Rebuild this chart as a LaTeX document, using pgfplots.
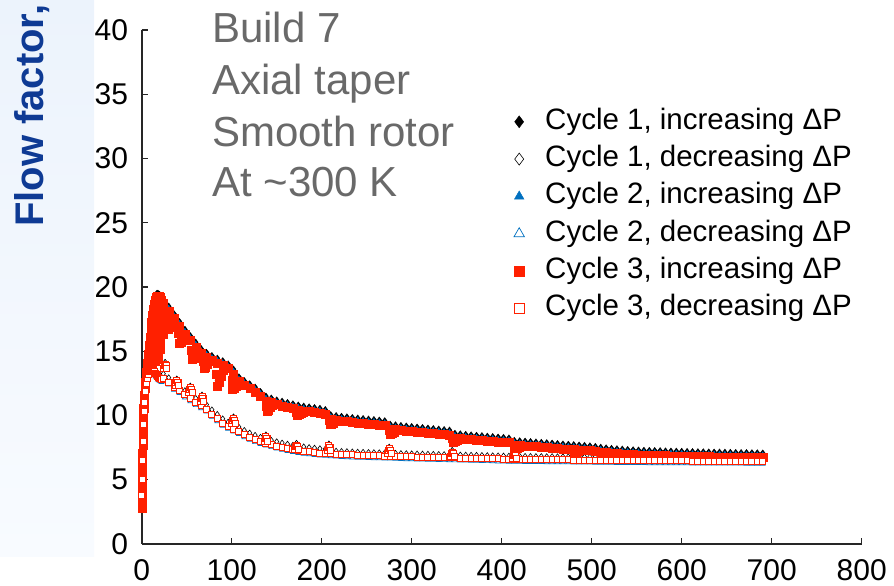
\documentclass[border=0pt]{standalone}
\usepackage{fontspec}
\setmainfont{Liberation Sans}
\usepackage{pgfplots}
\usepackage{pgfplotstable}
\pgfplotsset{compat=1.18}

\definecolor{cblue}{RGB}{0,112,192}
\definecolor{cred}{RGB}{255,32,0}
\definecolor{tgray}{RGB}{105,105,105}
\definecolor{lblue}{RGB}{14,58,148}
\definecolor{stripA}{RGB}{236,243,252}
\definecolor{stripB}{RGB}{248,251,255}

% x, then flow factor for each series:
% U = cycle 1 increasing, R = cycle 3 increasing, B = cycle 2 increasing,
% L = cycle 3 decreasing, K = cycle 1 decreasing, D = cycle 2 decreasing
\pgfplotstableread{
x U R B L K D
0 3.0 2.8 2.9 3.8 4.0 3.6
0.5 4.5 4.3 4.4 5.0 5.2 4.8
1 6.2 6.0 6.1 6.5 6.7 6.3
1.5 8.0 7.8 7.9 8.0 8.2 7.8
2 9.6 9.4 9.5 9.3 9.5 9.1
2.5 10.8 10.6 10.7 10.3 10.5 10.1
3 11.7 11.5 11.6 11.0 11.2 10.8
4 12.8 12.6 12.7 11.9 12.1 11.7
5 13.6 13.4 13.5 12.5 12.7 12.3
6 14.3 14.1 14.2 12.9 13.1 12.7
7 15.0 14.8 14.9 13.2 13.4 13.0
8 15.7 15.5 15.6 13.4 13.6 13.2
9 16.3 16.1 16.2 13.5 13.7 13.3
10 16.9 16.7 16.8 13.6 13.8 13.4
11 17.5 17.3 17.4 13.6 13.8 13.4
12 18.0 17.8 17.9 13.55 13.75 13.35
13 18.5 18.3 18.4 13.5 13.7 13.3
14 18.9 18.7 18.8 13.4 13.6 13.2
15 19.2 19.0 19.1 13.3 13.5 13.1
16 19.4 19.2 19.3 13.2 13.4 13.0
17 19.5 19.3 19.4 13.1 13.3 12.9
18 19.5 19.3 19.4 13.0 13.2 12.8
19 19.45 19.25 19.35 12.95 13.15 12.75
20 19.4 19.2 19.3 12.9 13.1 12.7
21 19.3 19.1 19.2 12.85 13.05 12.65
22 19.2 19.0 19.1 12.8 13.0 12.6
24 19.10 18.75 18.98 12.90 13.25 12.70
30 18.50 18.15 18.38 12.60 12.95 12.40
36 17.90 17.55 17.78 12.20 12.55 12.00
42 17.30 16.95 17.18 11.95 12.30 11.75
48 16.70 16.35 16.58 11.60 11.95 11.40
54 16.20 15.85 16.08 11.30 11.65 11.10
60 15.70 15.35 15.58 11.00 11.35 10.80
66 15.20 14.85 15.08 10.75 11.10 10.55
72 14.90 14.55 14.78 10.50 10.85 10.30
78 14.65 14.30 14.53 10.10 10.45 9.90
84 14.45 14.10 14.33 9.75 10.10 9.55
90 14.25 13.90 14.13 9.40 9.75 9.20
96 14.00 13.65 13.88 9.15 9.50 8.95
102 13.60 13.25 13.48 8.95 9.30 8.75
108 13.00 12.65 12.88 8.75 9.10 8.55
114 12.70 12.35 12.58 8.50 8.85 8.30
120 12.45 12.10 12.33 8.30 8.65 8.10
126 12.20 11.85 12.08 8.12 8.47 7.92
132 11.85 11.50 11.73 7.97 8.32 7.77
138 11.50 11.15 11.38 7.85 8.20 7.65
144 11.35 11.00 11.23 7.73 8.08 7.53
150 11.20 10.85 11.08 7.62 7.97 7.42
156 11.10 10.75 10.98 7.52 7.87 7.32
162 11.00 10.65 10.88 7.43 7.78 7.23
168 10.90 10.55 10.78 7.35 7.70 7.15
174 10.80 10.45 10.68 7.28 7.63 7.08
180 10.72 10.37 10.60 7.22 7.57 7.02
186 10.66 10.31 10.54 7.17 7.52 6.97
192 10.60 10.25 10.48 7.12 7.47 6.92
198 10.55 10.20 10.43 7.08 7.43 6.88
204 10.45 10.10 10.33 7.05 7.40 6.85
210 10.05 9.70 9.93 7.02 7.27 6.82
216 9.98 9.63 9.86 6.99 7.24 6.79
222 9.93 9.58 9.81 6.97 7.22 6.77
228 9.88 9.53 9.76 6.95 7.20 6.75
234 9.83 9.48 9.71 6.93 7.18 6.73
240 9.79 9.44 9.67 6.91 7.16 6.71
246 9.75 9.40 9.63 6.90 7.15 6.70
252 9.71 9.36 9.59 6.88 7.13 6.68
258 9.67 9.32 9.55 6.87 7.12 6.67
264 9.63 9.28 9.51 6.86 7.11 6.66
270 9.58 9.23 9.46 6.85 7.10 6.65
276 9.32 8.97 9.20 6.84 7.09 6.64
282 9.26 8.91 9.14 6.82 7.07 6.62
288 9.21 8.86 9.09 6.80 7.05 6.60
294 9.17 8.82 9.05 6.79 7.04 6.59
300 9.13 8.78 9.01 6.78 7.03 6.58
306 9.09 8.74 8.97 6.77 7.02 6.57
312 9.05 8.70 8.93 6.76 7.01 6.56
318 9.01 8.66 8.89 6.75 7.00 6.55
324 8.97 8.62 8.85 6.74 6.99 6.54
330 8.93 8.58 8.81 6.73 6.98 6.53
336 8.89 8.54 8.77 6.72 6.97 6.52
342 8.85 8.50 8.73 6.71 6.96 6.51
348 8.60 8.25 8.48 6.70 6.95 6.50
354 8.56 8.21 8.44 6.69 6.94 6.49
360 8.52 8.17 8.40 6.68 6.93 6.48
366 8.48 8.13 8.36 6.67 6.92 6.47
372 8.45 8.10 8.33 6.66 6.91 6.46
378 8.42 8.07 8.30 6.65 6.90 6.45
384 8.38 8.03 8.26 6.64 6.89 6.44
390 8.35 8.00 8.23 6.63 6.88 6.43
396 8.31 7.96 8.19 6.62 6.87 6.42
402 8.28 7.93 8.16 6.61 6.86 6.41
408 8.24 7.89 8.12 6.60 6.85 6.40
414 8.05 7.70 7.93 6.60 6.85 6.40
420 8.02 7.67 7.90 6.59 6.84 6.39
426 7.99 7.64 7.87 6.58 6.83 6.38
432 7.96 7.61 7.84 6.58 6.83 6.38
438 7.93 7.58 7.81 6.57 6.82 6.37
444 7.90 7.55 7.78 6.57 6.82 6.37
450 7.87 7.52 7.75 6.56 6.81 6.36
456 7.84 7.49 7.72 6.56 6.81 6.36
462 7.80 7.45 7.68 6.55 6.80 6.35
468 7.77 7.42 7.65 6.55 6.80 6.35
474 7.75 7.40 7.63 6.55 6.80 6.35
480 7.72 7.37 7.60 6.54 6.79 6.34
486 7.69 7.34 7.57 6.54 6.79 6.34
492 7.66 7.31 7.54 6.53 6.78 6.33
498 7.63 7.28 7.51 6.53 6.78 6.33
504 7.58 7.23 7.46 6.52 6.77 6.32
510 7.52 7.17 7.40 6.52 6.77 6.32
516 7.47 7.12 7.35 6.51 6.76 6.31
522 7.43 7.08 7.31 6.51 6.76 6.31
528 7.40 7.05 7.28 6.50 6.75 6.30
534 7.37 7.02 7.25 6.50 6.75 6.30
540 7.34 6.99 7.22 6.50 6.75 6.30
546 7.32 6.97 7.20 6.49 6.74 6.29
552 7.30 6.95 7.18 6.49 6.74 6.29
558 7.28 6.93 7.16 6.49 6.74 6.29
564 7.27 6.92 7.15 6.48 6.73 6.28
570 7.26 6.91 7.14 6.48 6.73 6.28
576 7.25 6.90 7.13 6.48 6.73 6.28
582 7.23 6.88 7.11 6.48 6.73 6.28
588 7.22 6.87 7.10 6.47 6.72 6.27
594 7.21 6.86 7.09 6.47 6.72 6.27
600 7.20 6.85 7.08 6.47 6.72 6.27
606 7.19 6.84 7.07 6.47 6.72 6.27
612 7.18 6.83 7.06 6.46 6.71 6.26
618 7.17 6.82 7.05 6.46 6.71 6.26
624 7.16 6.81 7.04 6.46 6.71 6.26
630 7.15 6.80 7.03 6.46 6.71 6.26
636 7.14 6.79 7.02 6.46 6.71 6.26
642 7.14 6.79 7.02 6.45 6.70 6.25
648 7.13 6.78 7.01 6.45 6.70 6.25
654 7.12 6.77 7.00 6.45 6.70 6.25
660 7.11 6.76 6.99 6.45 6.70 6.25
666 7.10 6.75 6.98 6.45 6.70 6.25
672 7.10 6.75 6.98 6.44 6.69 6.24
678 7.09 6.74 6.97 6.44 6.69 6.24
684 7.08 6.73 6.96 6.44 6.69 6.24
690 7.07 6.72 6.95 6.44 6.69 6.24
}\flowdata

\pgfplotsset{
  % legend sample: one enlarged marker in a fixed 12pt cell
  legmark/.style={legend image code/.code={
    \path[draw=none, fill=none] (-6pt,-6pt) rectangle (6pt,6pt);
    \draw[##1, mark size=#1] plot coordinates {(0pt,0pt)};}},
  c1inc/.style={only marks, mark=diamond*, mark size=3.3pt,
    mark options={draw=black, fill=black, line width=0.4pt}},
  c1dec/.style={only marks, mark=diamond*, mark size=2.8pt,
    mark options={draw=black, fill=white, line width=0.6pt}},
  c2inc/.style={only marks, mark=triangle*, mark size=2.8pt,
    mark options={draw=cblue, fill=cblue, line width=0.4pt}},
  c2dec/.style={only marks, mark=triangle*, mark size=2.8pt,
    mark options={draw=cblue, fill=white, line width=0.7pt}},
  c3inc/.style={only marks, mark=square*, mark size=4pt,
    mark options={draw=cred, fill=cred, line width=0.3pt}},
  c3dec/.style={only marks, mark=square*, mark size=3pt,
    mark options={draw=cred, fill=white, line width=0.9pt}},
}

\begin{document}
\begin{tikzpicture}
\useasboundingbox (0,0) rectangle (894pt,586pt);
% slide margin strip and the vertical title
\shade[top color=stripA, bottom color=stripB] (0,29pt) rectangle (94pt,586pt);
\node[rotate=90, anchor=base west, inner sep=0pt, text=lblue,
      font=\fontsize{40}{48}\selectfont\bfseries] at (43pt,359pt) {Flow factor,};

\begin{axis}[
  at={(141.7pt,42pt)}, anchor=south west,
  scale only axis, width=720pt, height=514pt,
  xmin=0, xmax=800, ymin=0, ymax=40,
  axis x line=bottom, axis y line=left,
  axis line style={-, line width=1.6pt, black!85},
  xtick={0,100,...,800}, ytick={0,5,...,40},
  tick align=inside, major tick length=6pt,
  major tick style={line width=1.4pt, black!85},
  tick label style={font=\fontsize{30}{36}\selectfont, inner sep=0pt},
  xticklabel style={yshift=-15pt},
  yticklabel style={xshift=-13.5pt},
  /pgf/number format/assume math mode=true,
  legend cell align=left,
  legend style={draw=none, fill=none, at={(0.5157,0.850)}, anchor=north west,
    inner sep=0pt, row sep=8.3pt, column sep=20pt,
    font=\fontsize{29.5}{35}\selectfont,
    nodes={inner sep=0pt, text height=22pt, text depth=7pt}},
]

% ---- cycle 1 ----
\addplot[c1inc, legmark=6pt] table[x=x, y=U]{\flowdata};
\addlegendentry{Cycle 1, increasing ΔP}
\addplot[c1inc, forget plot] coordinates {
  (0.3,4.0)(0.8,5.5)(1.3,7.2)(1.8,8.8)(2.3,10.3)(3.5,12.3)
  (24.5,13.8)(26,14.1)(27.5,13.8) (37.5,12.5)(39,12.8)(40.5,12.5)
  (52.5,11.95)(54,12.25)(55.5,11.95) (65.5,11.25)(67,11.55)(68.5,11.25)
  (100.5,9.55)(102,9.85)(103.5,9.55) (136.5,8.15)(138,8.45)(139.5,8.15)
  (170.5,7.5)(172,7.8)(173.5,7.5) (206.5,7.45)(208,7.75)(209.5,7.45)
  (273.5,7.2)(275,7.5)(276.5,7.2) (343.5,6.95)(345,7.25)(346.5,6.95)
  (412.5,6.8)(414,7.1)(415.5,6.8)};

\addplot[c1dec, legmark=6pt] table[x=x, y=K]{\flowdata};
\addlegendentry{Cycle 1, decreasing ΔP}
\addplot[c1dec, forget plot] coordinates {
  (24,13.85)(26,14.15)(28,13.85) (37,12.55)(39,12.85)(41,12.55)
  (52,12.0)(54,12.3)(56,12.0) (65,11.3)(67,11.6)(69,11.3)
  (100,9.6)(102,9.9)(104,9.6) (136,8.2)(138,8.5)(140,8.2)
  (170,7.55)(172,7.85)(174,7.55) (206,7.5)(208,7.8)(210,7.5)
  (273,7.25)(275,7.55)(277,7.25) (343,7.0)(345,7.3)(347,7.0)
  (412,6.85)(414,7.15)(416,6.85)};

% ---- cycle 2 ----
\addplot[c2inc, legmark=5.5pt] table[x=x, y=B]{\flowdata};
\addlegendentry{Cycle 2, increasing ΔP}
\addplot[c2inc, forget plot] coordinates {
  (0.2,3.8)(0.7,5.2)(1.2,6.8)(1.7,8.4)(2.2,9.9)
  (81,13.3)(83,13.0)(85,13.15)(84,12.8)};

\addplot[c2dec, legmark=6pt] table[x=x, y=D]{\flowdata};
\addlegendentry{Cycle 2, decreasing ΔP}
\addplot[c2dec, forget plot] coordinates {
  (26,13.9)(39,12.6)(54,12.05)(67,11.35)(102,9.65)(138,8.25)
  (172,7.6)(208,7.55)(275,7.3)(345,7.05)(414,6.9)};

% ---- cycle 3 ----
\addplot[c3inc, legmark=5pt] table[x=x, y=R]{\flowdata};
\addlegendentry{Cycle 3, increasing ΔP}
\addplot[c3inc, forget plot] coordinates {
  % steep rise near zero
  (0,3.5)(0.2,4.1)(0.35,4.7)(0.5,5.3)(0.65,5.9)(0.8,6.5)(0.95,7.1)
  (1.1,7.7)(1.25,8.3)(1.4,8.9)(1.6,9.5)(1.8,10.1)(2.1,10.6)(2.5,11.1)
  (3.0,11.6)(3.5,12.1)(4.0,12.6)(4.6,13.0)(5.2,13.4)
  % filled region below the peak
  (6,13.8)
  (9,13.9)(9,14.45)(9,15.0)(9,15.55)
  (12,14.0)(12,14.55)(12,15.1)(12,15.65)(12,16.2)(12,16.75)(12,17.3)
  (15,14.2)(15,14.75)(15,15.3)(15,15.85)(15,16.4)(15,16.95)(15,17.5)(15,18.05)(15,18.6)
  (18,14.4)(18,14.95)(18,15.5)(18,16.05)(18,16.6)(18,17.15)(18,17.7)(18,18.25)(18,18.8)
  (21,15.2)(21,15.7)(21,16.25)(21,16.8)(21,17.35)(21,17.9)(21,18.45)
  (24,16.3)(24,16.85)(24,17.4)(24,17.95)(24,18.5)
  % dips at each pressure step
  (28,17.6)(29,16.75)(31,16.85)(33,17.1)(35,17.35)
  (41,16.4)(42,15.65)(44,15.71)(46,15.9)(48,16.09)
  (55,15.1)(56,14.35)(58,14.46)(60,14.7)(62,14.94)
  (68,14.25)(69,13.7)(71,13.8)(73,14.0)(75,14.23)
  (83,13.25)(84,12.3)(86,12.59)(88,13.07)(90,13.54)
  (100,12.73)(101,12.02)(103,12.11)(105,12.3)(107,12.49)
  (138,10.75)(139,10.33)(141,10.44)(143,10.63)(145,10.82)
  (172,10.26)(173,10.01)(175,10.07)(177,10.18)(179,10.29)
  (208,9.63)(209,9.3)(211,9.32)(213,9.42)(215,9.54)
  (275,8.85)(276,8.57)(278,8.63)(280,8.73)(282,8.83)
  (345,8.2)(346,7.95)(348,7.97)(350,8.07)(352,8.15)
  (414,7.55)(415,7.39)(417,7.44)(419,7.52)(421,7.6)
  (480,7.25)(481,7.11)(483,7.15)(485,7.23)
  (545,6.86)(546,6.73)(548,6.77)(550,6.83)
  (615,6.72)(616,6.6)(618,6.63)(620,6.7)
  % humps on the lower branch
  (26,13.8)(39,12.5)(54,11.95)(67,11.25)(102,9.55)(138,8.15)
  (172,7.5)(208,7.45)(275,7.2)(345,6.95)(414,6.8)};

\addplot[c3dec, legmark=5pt] table[x=x, y=L]{\flowdata};
\addlegendentry{Cycle 3, decreasing ΔP}
\addplot[c3dec, forget plot] coordinates {
  (24,13.65)(25,13.9)(26,14.0)(27,13.9)(28,13.65)
  (37,12.35)(38,12.6)(39,12.7)(40,12.6)(41,12.35)
  (52,11.8)(53,12.05)(54,12.15)(55,12.05)(56,11.8)
  (65,11.1)(66,11.35)(67,11.45)(68,11.35)(69,11.1)
  (100,9.4)(101,9.65)(102,9.75)(103,9.65)(104,9.4)
  (136,8.0)(137,8.25)(138,8.35)(139,8.25)(140,8.0)
  (170,7.35)(171,7.6)(172,7.7)(173,7.6)(174,7.35)
  (206,7.3)(207,7.55)(208,7.65)(209,7.55)(210,7.3)
  (273,7.05)(274,7.3)(275,7.4)(276,7.3)(277,7.05)
  (343,6.8)(344,7.05)(345,7.15)(346,7.05)(347,6.8)
  (412,6.65)(413,6.9)(414,7.0)(415,6.9)(416,6.65)};
\end{axis}

% sample description
\begin{scope}[every node/.style={anchor=base west, inner sep=0pt, text=tgray,
    font=\fontsize{42}{50}\selectfont}]
  \node at (212pt,543pt) {Build 7};
  \node at (212pt,491pt) {Axial taper};
  \node at (212pt,439.3pt) {Smooth rotor};
  \node at (212pt,389.3pt) {At \textasciitilde300 K};
\end{scope}
\end{tikzpicture}
\end{document}
